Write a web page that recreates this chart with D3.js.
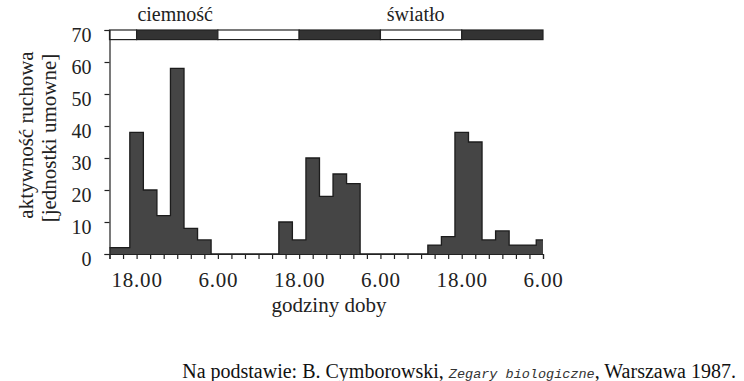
<!DOCTYPE html>
<html>
<head>
<meta charset="utf-8">
<script src="https://cdn.jsdelivr.net/npm/d3@7"></script>
<style>
 body{margin:0;background:#fff}
 svg{display:block}
</style>
</head>
<body>
<div id="chart"></div>
<script>
// two-hour bins, starting 14.00 on day 1
var hours=[14,16,18,20,22,0,2,4,6,8,10,12,14,16,18,20,22,0,2,4,6,8,10,12,14,16,18,20,22,0,2,4,6];
var activity=[2,2,38,20,12,58,8,4.4,0,0,0,0,0,10,4.4,30,18,25,22,0,0,0,0,0,2.8,5.4,38,35,4.4,7.2,2.8,2.8,4.4];
var yTicks=[0,10,20,30,40,50,60,70];
var xLabelHours=[18,6];
var phases=[
 {from:0,to:2,dark:false},
 {from:2,to:8,dark:true},
 {from:8,to:14,dark:false},
 {from:14,to:20,dark:true},
 {from:20,to:26,dark:false},
 {from:26,to:32,dark:true}
];
var phaseLabels=[{text:"ciemność",at:4.85},{text:"światło",at:22.6}];

var SERIF="'Liberation Serif','Times New Roman',serif";
var W=744,H=381;
var svg=d3.select("#chart").append("svg").attr("width",W).attr("height",H)
 .style("font-family",SERIF);

var x=d3.scaleLinear().domain([0,hours.length-1]).range([109.5,543]);
var y=d3.scaleLinear().domain([0,70]).range([254,30]);

// histogram: step area, bars centred on the ticks
var area=d3.area().curve(d3.curveStep)
 .x(function(d,i){return x(i);})
 .y0(y(0))
 .y1(function(d){return y(d);});
var outline=d3.line().curve(d3.curveStep)
 .x(function(d,i){return x(i);})
 .y(function(d){return y(d);});

svg.append("path").datum(activity).attr("d",area).attr("fill","#454545");
svg.append("path").datum(activity).attr("d",outline)
 .attr("fill","none").attr("stroke","#1c1c1c").attr("stroke-width",1.3);

// light/dark strip
var stripTop=y(70),stripBottom=y(67);
svg.append("g").selectAll("rect").data(phases).enter().append("rect")
 .attr("x",function(d){return x(d.from);})
 .attr("width",function(d){return x(d.to)-x(d.from);})
 .attr("y",stripTop)
 .attr("height",stripBottom-stripTop)
 .attr("fill",function(d){return d.dark?"#333":"#fff";})
 .attr("stroke","#222")
 .attr("stroke-width",1.2);

svg.append("g").selectAll("text").data(phaseLabels).enter().append("text")
 .attr("x",function(d){return x(d.at);})
 .attr("y",21)
 .attr("text-anchor","middle")
 .attr("fill","#222")
 .style("font-family",SERIF)
 .style("font-size","20px")
 .text(function(d){return d.text;});

// axes
var xAxis=d3.axisBottom(x)
 .tickValues(d3.range(hours.length))
 .tickSize(5)
 .tickPadding(10)
 .tickFormat(function(i){
  var h=hours[i];
  return (i%6===2 && xLabelHours.indexOf(h)>=0)?(h+".00"):"";
 });
var gx=svg.append("g").attr("transform","translate(0,"+y(0)+")").call(xAxis);
gx.attr("font-family",SERIF);
gx.selectAll("text").style("font-family",SERIF).style("font-size","21px")
 .style("letter-spacing","0.8px").attr("dy","0.85em").attr("fill","#222");

var yAxis=d3.axisLeft(y).tickValues(yTicks).tickSize(5).tickPadding(13);
var gy=svg.append("g").attr("transform","translate("+x(0)+",0)").call(yAxis);
gy.attr("font-family",SERIF);
gy.selectAll("text").style("font-family",SERIF).style("font-size","20px").attr("dy","0.55em").attr("fill","#222");

svg.selectAll(".domain,.tick line").attr("stroke","#222").attr("stroke-width",1.2);

// axis titles
svg.append("text")
 .attr("transform","translate(33,135) rotate(-90)")
 .attr("text-anchor","middle")
 .attr("fill","#222")
 .style("font-size","21px")
 .text("aktywność ruchowa");
svg.append("text")
 .attr("transform","translate(56,138) rotate(-90)")
 .attr("text-anchor","middle")
 .attr("fill","#222")
 .style("font-size","21px")
 .text("[jednostki umowne]");

svg.append("text")
 .attr("x",329)
 .attr("y",312)
 .attr("text-anchor","middle")
 .attr("fill","#222")
 .style("font-size","21px")
 .text("godziny doby");

// source note
var note=svg.append("text")
 .attr("x",736)
 .attr("y",378)
 .attr("text-anchor","end")
 .attr("fill","#111")
 .style("font-size","20px");
note.append("tspan").text("Na podstawie: B. Cymborowski, ");
note.append("tspan")
 .style("font-family","'Liberation Mono','Courier New',monospace")
 .style("font-style","italic").style("font-size","13.5px").attr("fill","#333")
 .text("Zegary biologiczne");
note.append("tspan").text(", Warszawa 1987.");
</script>
</body>
</html>
